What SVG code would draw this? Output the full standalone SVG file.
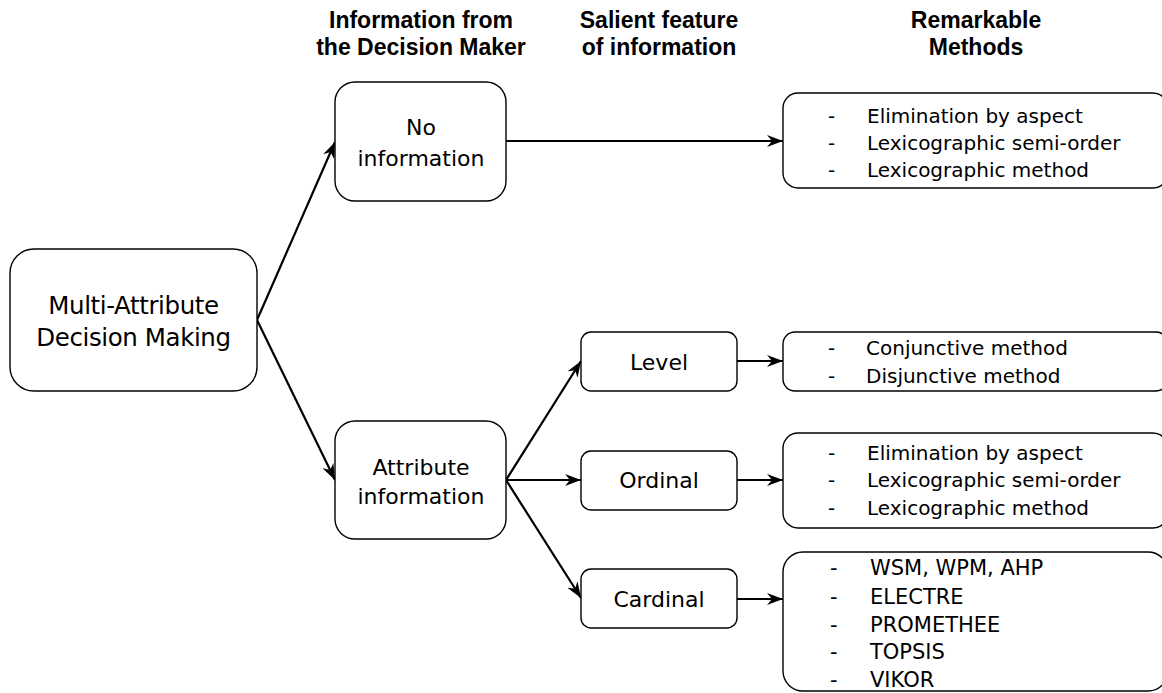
<svg xmlns="http://www.w3.org/2000/svg" width="1162" height="693" viewBox="0 0 1162 693">
  <style>
    .box { fill: #ffffff; stroke: #000000; stroke-width: 1.4; }
    .edge { stroke: #000000; stroke-width: 2.2; fill: none; marker-end: url(#arrow); }
    .head { font-family: "Liberation Sans", Arial, sans-serif; font-weight: bold; font-size: 23px; fill: #000; text-anchor: middle; }
    .lbl { font-family: "DejaVu Sans", sans-serif; font-size: 22px; fill: #000; text-anchor: middle; }
    .big { font-family: "DejaVu Sans", sans-serif; font-size: 24.5px; letter-spacing: -0.4px; fill: #000; text-anchor: middle; }
    .item { font-family: "DejaVu Sans", sans-serif; font-size: 20px; fill: #000; }
    .item21 { font-family: "DejaVu Sans", sans-serif; font-size: 21px; fill: #000; }
  </style>
  <defs>
    <!-- stealth-style arrowhead shared by all connectors -->
    <marker id="arrow" viewBox="0 0 16 12" refX="16" refY="6" markerWidth="16" markerHeight="12" markerUnits="userSpaceOnUse" orient="auto">
      <path d="M0,0 L16,6 L0,12 L5,6 z" fill="#000"/>
    </marker>
  </defs>

  <rect width="1162" height="693" fill="#ffffff"/>

  <!-- column headings -->
  <g id="headings">
    <text class="head" x="421" y="28">Information from</text>
    <text class="head" x="421" y="55">the Decision Maker</text>
    <text class="head" x="659" y="28">Salient feature</text>
    <text class="head" x="659" y="55">of information</text>
    <text class="head" x="976" y="28">Remarkable</text>
    <text class="head" x="976" y="55">Methods</text>
  </g>

  <!-- connectors -->
  <g id="connectors">
    <line class="edge" x1="257" y1="320" x2="335" y2="142"/>
    <line class="edge" x1="257" y1="320" x2="335" y2="480"/>
    <line class="edge" x1="506" y1="141" x2="783" y2="141"/>
    <line class="edge" x1="506" y1="480" x2="581" y2="361"/>
    <line class="edge" x1="506" y1="480" x2="581" y2="480"/>
    <line class="edge" x1="506" y1="480" x2="581" y2="598"/>
    <line class="edge" x1="737" y1="361" x2="783" y2="361"/>
    <line class="edge" x1="737" y1="480" x2="783" y2="480"/>
    <line class="edge" x1="737" y1="599" x2="783" y2="599"/>
  </g>

  <!-- root -->
  <g id="mcdm">
    <rect class="box" x="10" y="249" width="247" height="142" rx="24" ry="24"/>
    <text class="big" x="133.5" y="314">Multi-Attribute</text>
    <text class="big" x="133.5" y="346">Decision Making</text>
  </g>

  <!-- information from the decision maker -->
  <g id="no-information">
    <rect class="box" x="335" y="82" width="171" height="119" rx="20" ry="20"/>
    <text class="lbl" x="421" y="135">No</text>
    <text class="lbl" x="421" y="166">information</text>
  </g>
  <g id="attribute-information">
    <rect class="box" x="335" y="421" width="171" height="118" rx="20" ry="20"/>
    <text class="lbl" x="421" y="475">Attribute</text>
    <text class="lbl" x="421" y="504">information</text>
  </g>

  <!-- salient features -->
  <g id="level">
    <rect class="box" x="581" y="332" width="156" height="59" rx="10" ry="10"/>
    <text class="lbl" x="659" y="370">Level</text>
  </g>
  <g id="ordinal">
    <rect class="box" x="581" y="451" width="156" height="59" rx="10" ry="10"/>
    <text class="lbl" x="659" y="488">Ordinal</text>
  </g>
  <g id="cardinal">
    <rect class="box" x="581" y="569" width="156" height="59" rx="10" ry="10"/>
    <text class="lbl" x="659" y="607">Cardinal</text>
  </g>

  <!-- method lists -->
  <g id="methods-no-information">
    <rect class="box" x="783" y="93" width="385" height="95" rx="15" ry="15"/>
    <text class="item" x="828" y="123">-</text>
    <text class="item" x="867" y="123">Elimination by aspect</text>
    <text class="item" x="828" y="150">-</text>
    <text class="item" x="867" y="150">Lexicographic semi-order</text>
    <text class="item" x="828" y="177">-</text>
    <text class="item" x="867" y="177">Lexicographic method</text>
  </g>
  <g id="methods-level">
    <rect class="box" x="783" y="332" width="385" height="59" rx="12" ry="12"/>
    <text class="item" x="828" y="355">-</text>
    <text class="item" x="866" y="355">Conjunctive method</text>
    <text class="item" x="828" y="383">-</text>
    <text class="item" x="866" y="383">Disjunctive method</text>
  </g>
  <g id="methods-ordinal">
    <rect class="box" x="783" y="433" width="385" height="95" rx="15" ry="15"/>
    <text class="item" x="828" y="460">-</text>
    <text class="item" x="867" y="460">Elimination by aspect</text>
    <text class="item" x="828" y="487">-</text>
    <text class="item" x="867" y="487">Lexicographic semi-order</text>
    <text class="item" x="828" y="515">-</text>
    <text class="item" x="867" y="515">Lexicographic method</text>
  </g>
  <g id="methods-cardinal">
    <rect class="box" x="783" y="552" width="385" height="139" rx="20" ry="20"/>
    <text class="item21" x="830" y="575">-</text>
    <text class="item21" x="870" y="575">WSM, WPM, AHP</text>
    <text class="item21" x="830" y="604">-</text>
    <text class="item21" x="870" y="604">ELECTRE</text>
    <text class="item21" x="830" y="632">-</text>
    <text class="item21" x="870" y="632">PROMETHEE</text>
    <text class="item21" x="830" y="659">-</text>
    <text class="item21" x="870" y="659">TOPSIS</text>
    <text class="item21" x="830" y="687">-</text>
    <text class="item21" x="870" y="687">VIKOR</text>
  </g>
</svg>
